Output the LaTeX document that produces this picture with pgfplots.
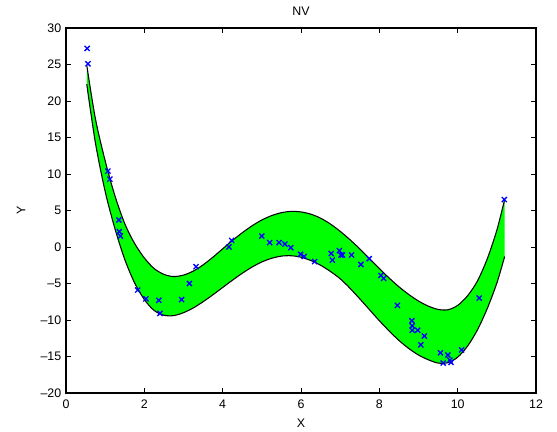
\documentclass[border=0pt]{standalone}
\usepackage{fontspec}
\setmainfont{Liberation Sans}
\usepackage{pgfplots}
\pgfplotsset{compat=1.18}
\usepgfplotslibrary{fillbetween}

\begin{document}
\begin{tikzpicture}
\begin{axis}[
    name=ax,
    scale only axis,
    width=352.5pt, height=273.75pt,
    xmin=0, xmax=12,
    ymin=-20, ymax=30,
    xtick={0,2,4,6,8,10,12},
    xticklabels={0,2,4,6,8,10,12},
    ytick={-20,-15,-10,-5,0,5,10,15,20,25,30},
    yticklabels={--20,--15,--10,--5,0,5,10,15,20,25,30},
    tick align=inside,
    major tick length=3.75pt,
    tick style={black, line width=0.6pt},
    axis line style={black, line width=0.8pt},
    font=\fontsize{9.3}{11}\selectfont,
    title={NV},
    xlabel={X},
    ylabel={Y},
    every axis title shift=0pt,
    title style={at={(axis description cs:0.5,1.0466)}, anchor=center, inner sep=0pt},
    xlabel style={at={(axis description cs:0.5,-0.0822)}, anchor=center, inner sep=0pt},
    ylabel style={at={(axis description cs:-0.0957,0.5)}, anchor=center, inner sep=0pt},
    xticklabel style={yshift=-1.5pt},
]

% upper edge of the band
\addplot[name path=U, black, line width=0.8pt, smooth] coordinates {
    (0.53,24.9)(0.75,17.6)(1.0,11.8)(1.25,7.0)(1.5,3.2)(1.75,0.5)(2.0,-1.5)
    (2.25,-2.95)(2.5,-3.75)(2.75,-4.05)(3.0,-3.85)(3.25,-3.3)(3.5,-2.45)
    (3.75,-1.4)(4.0,-0.25)(4.25,0.9)(4.5,1.95)(4.75,2.9)(5.0,3.7)(5.25,4.3)
    (5.5,4.7)(5.75,4.88)(6.0,4.8)(6.25,4.5)(6.5,3.95)(6.75,3.15)(7.0,2.15)
    (7.25,1.0)(7.5,-0.25)(7.75,-1.6)(8.0,-2.95)(8.25,-4.25)(8.5,-5.45)
    (8.75,-6.5)(9.0,-7.4)(9.25,-8.1)(9.5,-8.55)(9.75,-8.6)(10.0,-8.0)
    (10.25,-6.7)(10.5,-4.7)(10.75,-1.7)(11.0,2.3)(11.2,6.5)
};
% lower edge of the band
\addplot[name path=L, black, line width=0.8pt, smooth] coordinates {
    (0.53,22.3)(0.75,14.3)(1.0,7.6)(1.25,2.5)(1.5,-1.7)(1.75,-4.9)(2.0,-7.2)
    (2.25,-8.7)(2.5,-9.35)(2.75,-9.4)(3.0,-9.0)(3.25,-8.35)(3.5,-7.5)
    (3.75,-6.55)(4.0,-5.55)(4.25,-4.55)(4.5,-3.6)(4.75,-2.75)(5.0,-2.05)
    (5.25,-1.55)(5.5,-1.25)(5.75,-1.2)(6.0,-1.4)(6.25,-1.85)(6.5,-2.5)
    (6.75,-3.35)(7.0,-4.35)(7.25,-5.65)(7.5,-7.1)(7.75,-8.6)(8.0,-10.1)
    (8.25,-11.5)(8.5,-12.8)(8.75,-13.9)(9.0,-14.8)(9.25,-15.45)(9.5,-15.9)
    (9.75,-15.85)(10.0,-15.1)(10.25,-13.6)(10.5,-11.4)(10.75,-8.5)
    (11.0,-4.95)(11.2,-1.3)
};
\addplot[fill={rgb,255:red,0;green,255;blue,0}, draw=none] fill between[of=U and L];

% observations
\addplot[only marks, mark=x, mark size=2.7pt, color=blue, line width=1pt] coordinates {
    (0.54,27.2)(0.56,25.1)(1.07,10.4)(1.12,9.3)(1.35,3.7)(1.36,2.1)(1.39,1.5)
    (1.83,-5.9)(2.04,-7.1)(2.37,-7.3)(2.40,-9.1)(2.95,-7.2)(3.15,-5.0)(3.32,-2.7)
    (4.16,0.0)(4.23,0.9)(5.0,1.5)(5.2,0.6)(5.44,0.6)(5.59,0.4)(5.74,-0.1)
    (5.99,-1.0)(6.08,-1.3)(6.35,-2.0)(6.77,-0.9)(6.80,-1.8)(6.98,-0.5)(7.02,-1.1)
    (7.06,-1.1)(7.29,-1.1)(7.53,-2.4)(7.74,-1.6)(8.04,-3.9)(8.11,-4.3)(8.46,-8.0)
    (8.83,-10.1)(8.84,-10.8)(8.84,-11.4)(8.98,-11.4)(9.15,-12.2)(9.06,-13.4)
    (9.56,-14.5)(9.75,-14.8)(9.63,-15.9)(9.80,-15.5)(9.83,-15.8)(10.10,-14.1)
    (10.55,-7.0)(11.19,6.5)
};
\end{axis}
\pgfresetboundingbox
\path ([shift={(-49.5pt,-29.25pt)}]ax.south west) rectangle ([shift={(15.75pt,21pt)}]ax.north east);
\end{tikzpicture}
\end{document}
